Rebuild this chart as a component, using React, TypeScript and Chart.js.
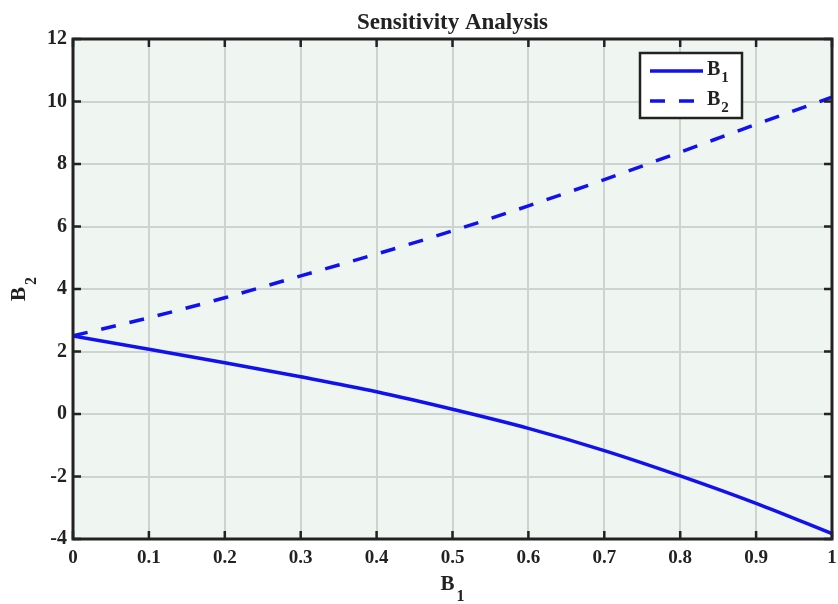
import React, { useEffect, useRef } from "react";
import { Chart, registerables } from "chart.js";

Chart.register(...registerables);

const xValues = [0, 0.1, 0.2, 0.3, 0.4, 0.5, 0.6, 0.7, 0.8, 0.9, 1.0];
const b1Values = [2.5, 2.07, 1.64, 1.19, 0.71, 0.15, -0.46, -1.17, -1.98, -2.86, -3.83];
const b2Values = [2.5, 3.08, 3.72, 4.42, 5.12, 5.86, 6.66, 7.5, 8.38, 9.27, 10.14];
const xTicks = [0, 0.1, 0.2, 0.3, 0.4, 0.5, 0.6, 0.7, 0.8, 0.9, 1];
const yTicks = [-4, -2, 0, 2, 4, 6, 8, 10, 12];
const seriesNames = ["B", "B"];
const seriesSubs = ["1", "2"];
const titleText = "Sensitivity Analysis";
const xLabel = ["B", "1"];
const yLabel = ["B", "2"];

const FONT = "'Liberation Serif', 'Times New Roman', serif";
const INK = "#222222";
const LINE = "#1111ee";

function drawSub(ctx: CanvasRenderingContext2D, base: string, sub: string, cx: number, y: number, size: number, subSize: number, subDrop: number) {
  ctx.font = `bold ${size}px ${FONT}`;
  const wb = ctx.measureText(base).width;
  ctx.font = `bold ${subSize}px ${FONT}`;
  const ws = ctx.measureText(sub).width;
  const gap = 2;
  const start = cx - (wb + gap + ws) / 2;
  ctx.textAlign = "left";
  ctx.textBaseline = "alphabetic";
  ctx.font = `bold ${size}px ${FONT}`;
  ctx.fillText(base, start, y);
  ctx.font = `bold ${subSize}px ${FONT}`;
  ctx.fillText(sub, start + wb + gap, y + subDrop);
}

const decorPlugin = {
  id: "decor",
  beforeDraw(chart: any) {
    const { ctx, chartArea } = chart;
    ctx.save();
    ctx.fillStyle = "#eff5f1";
    ctx.fillRect(chartArea.left, chartArea.top, chartArea.right - chartArea.left, chartArea.bottom - chartArea.top);
    ctx.restore();
  },
  afterDatasetsDraw(chart: any) {
    const { ctx, chartArea } = chart;
    const { left, right, top, bottom } = chartArea;
    const xs = chart.scales.x;
    const ys = chart.scales.y;
    ctx.save();
    // inward ticks
    ctx.strokeStyle = INK;
    ctx.lineWidth = 2.5;
    const tl = 8;
    ctx.beginPath();
    xTicks.forEach((v) => {
      const px = xs.getPixelForValue(v);
      ctx.moveTo(px, bottom);
      ctx.lineTo(px, bottom - tl);
      ctx.moveTo(px, top);
      ctx.lineTo(px, top + tl);
    });
    yTicks.forEach((v) => {
      const py = ys.getPixelForValue(v);
      ctx.moveTo(left, py);
      ctx.lineTo(left + tl, py);
      ctx.moveTo(right, py);
      ctx.lineTo(right - tl, py);
    });
    ctx.stroke();
    // box
    ctx.lineWidth = 3;
    ctx.strokeRect(left, top, right - left, bottom - top);

    // title
    ctx.fillStyle = INK;
    ctx.font = `bold 23px ${FONT}`;
    ctx.textAlign = "center";
    ctx.textBaseline = "alphabetic";
    ctx.fillText(titleText, (left + right) / 2, top - 10);

    // x label
    drawSub(ctx, xLabel[0], xLabel[1], (left + right) / 2, bottom + 51, 21, 16, 11);

    // y label
    ctx.save();
    ctx.translate(left - 48, (top + bottom) / 2);
    ctx.rotate(-Math.PI / 2);
    drawSub(ctx, yLabel[0], yLabel[1], 0, 0, 21, 16, 11);
    ctx.restore();

    // legend
    const boxLeft = right - 192;
    const boxTop = top + 14;
    const boxW = 102;
    const boxH = 65;
    ctx.fillStyle = "#ffffff";
    ctx.fillRect(boxLeft, boxTop, boxW, boxH);
    ctx.strokeStyle = INK;
    ctx.lineWidth = 2.5;
    ctx.strokeRect(boxLeft, boxTop, boxW, boxH);
    chart.data.datasets.forEach((ds: any, i: number) => {
      const yy = boxTop + 18 + i * 30;
      ctx.save();
      ctx.strokeStyle = ds.borderColor;
      ctx.lineWidth = ds.borderWidth;
      ctx.setLineDash(ds.borderDash || []);
      ctx.beginPath();
      ctx.moveTo(boxLeft + 10, yy);
      ctx.lineTo(boxLeft + 63, yy);
      ctx.stroke();
      ctx.restore();
      ctx.fillStyle = INK;
      ctx.font = `bold 20px ${FONT}`;
      const wb = ctx.measureText(seriesNames[i]).width;
      ctx.textAlign = "left";
      ctx.textBaseline = "alphabetic";
      ctx.fillText(seriesNames[i], boxLeft + 67, yy + 4);
      ctx.font = `bold 15px ${FONT}`;
      ctx.fillText(seriesSubs[i], boxLeft + 67 + wb + 1, yy + 11);
    });
    ctx.restore();
  },
};

export default function App() {
  const ref = useRef<HTMLCanvasElement | null>(null);
  useEffect(() => {
    if (!ref.current) return;
    const chart = new Chart(ref.current, {
      type: "line",
      data: {
        datasets: [
          {
            label: "B1",
            data: xValues.map((x, i) => ({ x, y: b1Values[i] })),
            borderColor: LINE,
            borderWidth: 3.5,
            pointRadius: 0,
            cubicInterpolationMode: "monotone",
            fill: false,
          },
          {
            label: "B2",
            data: xValues.map((x, i) => ({ x, y: b2Values[i] })),
            borderColor: LINE,
            borderWidth: 3.5,
            borderDash: [15, 14],
            pointRadius: 0,
            cubicInterpolationMode: "monotone",
            fill: false,
          },
        ],
      },
      options: {
        animation: false,
        responsive: true,
        maintainAspectRatio: false,
        layout: { padding: { left: 8, right: 6, top: 39, bottom: 0 } },
        plugins: {
          legend: { display: false },
          title: { display: false },
          tooltip: { enabled: false },
        },
        scales: {
          x: {
            type: "linear",
            min: 0,
            max: 1,
            afterBuildTicks: (s: any) => {
              s.ticks = xTicks.map((v) => ({ value: v }));
            },
            afterFit: (s: any) => {
              s.height = 65;
              s.paddingLeft = 0;
              s.paddingRight = 0;
            },
            ticks: {
              autoSkip: false,
              maxRotation: 0,
              padding: 8,
              color: INK,
              font: { family: FONT, size: 19, weight: "bold" },
              callback: (v: any) => String(Math.round(Number(v) * 10) / 10),
            },
            grid: { color: "#cfd3d0", lineWidth: 2, drawTicks: false },
            border: { display: false },
          },
          y: {
            type: "linear",
            min: -4,
            max: 12,
            afterBuildTicks: (s: any) => {
              s.ticks = yTicks.map((v) => ({ value: v }));
            },
            afterFit: (s: any) => {
              s.width = 65;
              s.paddingTop = 0;
              s.paddingBottom = 0;
            },
            ticks: {
              autoSkip: false,
              padding: 6,
              color: INK,
              font: { family: FONT, size: 20, weight: "bold" },
              callback: (v: any) => String(v),
            },
            grid: { color: "#cfd3d0", lineWidth: 2, drawTicks: false },
            border: { display: false },
          },
        },
      },
      plugins: [decorPlugin],
    } as any);
    return () => chart.destroy();
  }, []);
  return (
    <div style={{ position: "absolute", left: 0, top: 0, width: 838, height: 604, background: "#ffffff" }}>
      <canvas ref={ref} />
    </div>
  );
}
